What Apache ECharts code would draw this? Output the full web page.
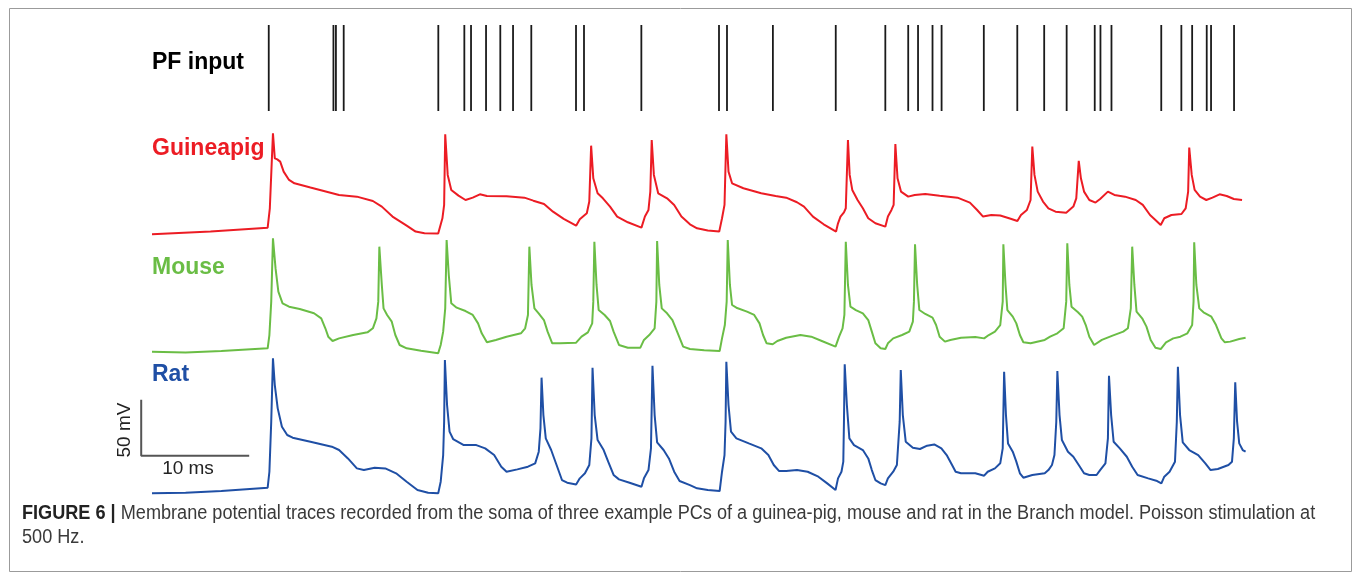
<!DOCTYPE html>
<html>
<head>
<meta charset="utf-8">
<title>Figure 6</title>
<script src="https://cdn.jsdelivr.net/npm/echarts@6.0.0/dist/echarts.min.js"></script>
<style>
    html, body { margin: 0; padding: 0; background: #fff; }
    #divStatis { width: 1358px; height: 579px; }
</style>
</head>
<body>
<div id="divStatis"></div>
<script>
// PF input spike times (ms)
var pfTimes = [10.81, 16.80, 17.03, 17.75, 26.51, 28.92, 29.54, 30.93, 32.25, 33.43, 35.12, 39.26, 40.00, 45.31,
    52.50, 53.24, 57.49, 63.31, 67.90, 70.02, 70.93, 72.27, 73.11, 77.02, 80.12, 82.61, 84.69, 87.29, 87.82, 88.84,
    93.45, 95.31, 96.31, 97.66, 98.06, 100.19];

// membrane potential, [time ms, mV]
var guineapigTrace = [[0, -75.6], [5.42, -73.2], [10.71, -69.7], [10.91, -52.4], [11.20, 14.6], [11.37, -7.8], [11.60, -8.7], [11.87, -10.7], [12.19, -19.7], [12.69, -27.1], [13.19, -30.1], [14.67, -33.9], [17.32, -40.5], [18.97, -42.0], [20.45, -45.9], [21.28, -50.9], [22.27, -59.8], [23.58, -67.9], [24.41, -73.2], [25.23, -74.7], [26.50, -75.0], [26.89, -61.3], [27.05, -49.4], [27.15, 13.7], [27.38, -22.6], [27.71, -36.0], [28.38, -41.1], [29.03, -45.0], [29.70, -42.9], [30.36, -39.9], [31.01, -41.4], [32.83, -41.7], [34.48, -42.9], [35.31, -45.6], [36.30, -48.5], [37.13, -55.4], [38.12, -61.9], [39.27, -67.9], [39.61, -62.2], [40.26, -56.9], [40.49, -46.4], [40.66, 3.5], [40.86, -25.6], [41.26, -39.0], [41.75, -43.5], [42.41, -50.9], [43.07, -59.8], [44.06, -64.9], [45.32, -69.7], [45.64, -59.8], [45.97, -53.9], [46.14, -37.5], [46.27, 8.6], [46.47, -22.6], [46.87, -39.0], [47.69, -43.5], [48.35, -49.4], [49.02, -59.8], [49.81, -66.7], [50.47, -70.3], [51.46, -72.3], [52.52, -73.2], [52.78, -61.3], [53.01, -49.4], [53.18, 13.7], [53.38, -19.7], [53.71, -30.1], [54.76, -34.5], [56.41, -39.0], [57.74, -41.4], [58.72, -42.9], [59.72, -47.0], [60.37, -50.9], [61.20, -59.8], [62.19, -66.7], [63.34, -73.2], [63.52, -65.8], [63.75, -59.8], [64.07, -56.0], [64.24, -52.4], [64.44, 8.6], [64.60, -22.6], [64.84, -36.0], [65.33, -45.0], [65.82, -52.4], [66.32, -61.3], [66.98, -65.8], [67.90, -68.8], [68.14, -59.8], [68.47, -53.9], [68.67, -49.4], [68.83, 5.0], [69.03, -25.6], [69.35, -37.5], [70.02, -42.0], [70.62, -40.5], [71.60, -39.6], [72.93, -41.1], [74.58, -42.9], [75.73, -47.3], [76.40, -53.9], [76.95, -59.8], [77.71, -58.4], [78.54, -58.9], [79.36, -61.3], [80.13, -63.7], [80.46, -58.4], [81.01, -53.9], [81.35, -45.0], [81.51, 2.7], [81.71, -22.6], [82.01, -37.5], [82.50, -46.4], [83.00, -52.4], [83.66, -55.4], [84.65, -56.3], [85.31, -50.9], [85.58, -43.5], [85.81, -10.1], [86.01, -25.6], [86.30, -37.5], [86.79, -45.0], [87.36, -47.3], [87.79, -44.1], [88.51, -37.5], [89.11, -40.5], [90.09, -42.0], [91.09, -45.0], [91.74, -49.4], [92.41, -58.4], [92.91, -62.8], [93.40, -67.3], [93.73, -61.3], [94.39, -58.4], [95.32, -57.5], [95.71, -52.4], [95.94, -37.5], [96.04, 1.8], [96.27, -22.6], [96.54, -36.0], [97.04, -42.0], [97.62, -45.0], [98.19, -42.9], [98.85, -39.9], [99.51, -41.4], [100.17, -44.1], [100.93, -45.0]];

var mouseTrace = [[0, -74.2], [3.11, -74.8], [6.42, -73.6], [10.71, -71.2], [10.87, -59.3], [11.04, -29.5], [11.20, 27.0], [11.44, 0.2], [11.70, -20.6], [12.09, -31.0], [12.69, -34.0], [13.68, -36.1], [15.00, -39.9], [15.67, -44.4], [16.05, -53.3], [16.32, -60.8], [16.72, -64.6], [17.32, -62.3], [18.63, -59.3], [19.95, -56.9], [20.45, -53.3], [20.78, -44.4], [20.95, -29.5], [21.05, 19.6], [21.28, -14.6], [21.44, -35.5], [21.77, -41.4], [22.20, -47.4], [22.53, -59.3], [22.93, -68.2], [23.58, -71.2], [24.91, -73.3], [26.50, -75.6], [26.73, -68.2], [26.96, -56.3], [27.15, -35.5], [27.28, 25.5], [27.48, -5.7], [27.71, -31.0], [28.21, -34.9], [29.03, -37.9], [29.70, -41.4], [30.19, -48.9], [30.53, -57.8], [31.01, -65.8], [31.84, -63.7], [32.83, -60.8], [34.16, -57.8], [34.55, -53.3], [34.81, -41.4], [34.94, 19.6], [35.14, -14.6], [35.41, -35.5], [35.80, -39.9], [36.29, -45.9], [36.63, -56.3], [37.06, -66.7], [37.79, -66.7], [39.27, -66.1], [39.77, -60.8], [40.36, -56.9], [40.76, -48.9], [40.86, -29.5], [40.96, 24.0], [41.16, -14.6], [41.36, -37.0], [41.91, -41.4], [42.41, -46.8], [42.74, -56.3], [43.24, -68.2], [44.06, -70.6], [45.22, -70.6], [45.55, -63.7], [46.04, -59.3], [46.54, -53.3], [46.70, -29.5], [46.77, 24.6], [46.97, -14.6], [47.20, -35.5], [47.69, -39.9], [48.19, -45.9], [48.62, -56.3], [49.18, -69.7], [49.81, -71.8], [51.13, -73.0], [52.56, -73.6], [52.78, -62.3], [53.04, -50.4], [53.21, -29.5], [53.31, 25.5], [53.51, -14.6], [53.71, -32.5], [54.11, -34.9], [55.09, -38.4], [55.76, -41.4], [56.25, -48.9], [56.58, -59.3], [56.91, -66.7], [57.47, -67.6], [57.90, -64.6], [58.72, -61.7], [60.04, -59.3], [61.04, -60.8], [62.02, -64.6], [63.29, -69.7], [63.62, -60.8], [63.94, -53.3], [64.11, -41.4], [64.24, 24.0], [64.44, -14.6], [64.67, -34.0], [65.17, -37.0], [65.82, -39.9], [66.32, -45.9], [66.65, -56.3], [66.98, -66.7], [67.47, -71.2], [67.90, -71.8], [68.14, -66.7], [68.63, -62.3], [69.45, -59.3], [70.12, -56.3], [70.45, -47.4], [70.55, -29.5], [70.65, 21.7], [70.85, -14.6], [71.05, -37.0], [71.60, -40.5], [72.27, -43.8], [72.60, -50.4], [72.93, -60.8], [73.42, -65.2], [73.92, -63.7], [74.91, -61.7], [76.23, -61.1], [77.05, -62.3], [77.48, -59.3], [78.05, -56.3], [78.54, -50.4], [78.77, -29.5], [78.83, 21.7], [79.03, -14.6], [79.20, -37.0], [79.70, -42.9], [80.03, -48.9], [80.36, -59.3], [80.68, -65.8], [81.35, -66.7], [82.66, -63.7], [83.16, -60.8], [83.83, -57.8], [84.41, -53.3], [84.65, -29.5], [84.75, 22.6], [84.94, -14.6], [85.14, -34.0], [85.74, -39.0], [86.13, -42.9], [86.46, -50.4], [86.79, -60.8], [87.23, -68.2], [87.95, -63.7], [88.94, -59.9], [89.93, -56.3], [90.36, -53.3], [90.63, -35.5], [90.76, 19.6], [90.96, -14.6], [91.16, -38.4], [91.68, -44.4], [92.08, -51.8], [92.47, -63.7], [92.91, -70.6], [93.40, -71.8], [93.89, -65.8], [94.56, -62.3], [95.22, -60.8], [95.87, -57.8], [96.31, -50.4], [96.44, -29.5], [96.50, 23.5], [96.70, -14.6], [96.97, -35.5], [97.36, -39.0], [98.09, -42.9], [98.52, -50.4], [99.02, -62.3], [99.34, -65.8], [99.84, -65.2], [100.67, -62.9], [101.26, -61.7]];

var ratTrace = [[0, -75.5], [3.11, -74.9], [6.42, -73.4], [10.71, -70.4], [10.87, -56.2], [11.04, -11.5], [11.20, 45.0], [11.37, 21.2], [11.64, 0.4], [12.03, -16.0], [12.52, -23.4], [13.02, -25.8], [14.67, -29.4], [16.65, -33.8], [17.32, -36.8], [18.14, -44.3], [18.97, -53.2], [19.62, -54.7], [20.62, -52.6], [21.60, -53.2], [22.60, -57.6], [23.58, -65.1], [24.58, -72.5], [25.57, -74.9], [26.50, -75.5], [26.73, -65.1], [26.96, -41.3], [27.05, -11.5], [27.12, 43.5], [27.32, 3.4], [27.55, -20.4], [27.88, -27.0], [28.87, -32.4], [30.03, -32.4], [30.85, -35.3], [31.68, -41.3], [32.34, -51.7], [32.83, -56.2], [33.83, -54.1], [34.81, -51.7], [35.48, -48.7], [35.81, -38.3], [35.97, -17.5], [36.07, 27.8], [36.24, -5.6], [36.46, -26.4], [36.96, -36.8], [37.46, -50.2], [37.96, -63.6], [38.44, -66.0], [39.27, -67.5], [39.61, -62.1], [40.09, -57.6], [40.49, -50.2], [40.69, -26.4], [40.79, 36.7], [40.99, -5.6], [41.26, -27.9], [41.82, -36.8], [42.24, -47.2], [42.74, -59.1], [43.24, -63.0], [44.22, -66.0], [45.32, -69.6], [45.55, -62.1], [45.97, -54.7], [46.20, -35.3], [46.34, 38.5], [46.54, -5.6], [46.77, -30.0], [47.37, -36.8], [47.86, -44.3], [48.35, -56.2], [48.85, -64.5], [49.81, -68.1], [50.47, -71.0], [51.46, -72.5], [52.56, -73.4], [52.78, -56.2], [53.01, -41.3], [53.11, -11.5], [53.18, 42.0], [53.38, 3.4], [53.61, -20.4], [54.11, -26.4], [55.26, -30.9], [56.41, -35.3], [57.07, -41.3], [57.57, -50.2], [58.07, -55.6], [58.72, -55.6], [59.72, -54.7], [60.71, -56.2], [61.70, -60.6], [62.52, -66.6], [63.29, -72.5], [63.52, -62.1], [63.84, -56.2], [64.01, -47.2], [64.07, -11.5], [64.14, 39.7], [64.34, 3.4], [64.57, -26.4], [65.00, -32.4], [65.82, -36.8], [66.32, -44.3], [66.65, -54.7], [66.98, -63.6], [67.47, -66.6], [67.90, -68.1], [68.14, -62.1], [68.63, -56.2], [68.97, -50.2], [69.23, -11.5], [69.33, 34.6], [69.52, -5.6], [69.79, -29.4], [70.45, -34.7], [71.11, -35.9], [71.77, -32.9], [72.43, -31.8], [73.09, -35.3], [73.58, -41.3], [74.08, -50.2], [74.41, -56.2], [74.91, -57.6], [76.23, -57.6], [77.05, -59.7], [77.38, -56.2], [78.05, -53.2], [78.54, -48.7], [78.77, -35.3], [78.90, 33.1], [79.07, -5.6], [79.26, -30.9], [79.70, -38.3], [80.03, -47.2], [80.36, -57.6], [80.68, -61.5], [81.51, -59.1], [82.66, -57.6], [83.00, -54.7], [83.33, -50.2], [83.56, -41.3], [83.73, -11.5], [83.83, 33.7], [84.03, -5.6], [84.25, -27.9], [84.81, -38.3], [85.31, -42.8], [85.81, -50.2], [86.30, -57.6], [86.79, -59.1], [87.46, -59.1], [87.79, -54.7], [88.28, -48.7], [88.51, -26.4], [88.61, 29.5], [88.81, -5.6], [89.04, -29.4], [89.61, -35.3], [90.26, -42.8], [90.76, -51.7], [91.26, -59.1], [92.24, -62.1], [93.07, -64.5], [93.46, -66.6], [93.73, -60.6], [94.22, -56.2], [94.72, -47.2], [94.89, -11.5], [94.99, 37.6], [95.19, -5.6], [95.44, -30.0], [96.04, -36.8], [96.87, -41.3], [97.53, -48.7], [98.02, -54.7], [98.69, -53.8], [99.67, -50.2], [100.00, -47.2], [100.17, -26.4], [100.30, 23.6], [100.47, -11.5], [100.67, -30.9], [100.99, -36.8], [101.26, -38.3]];

// scale bar: 10 ms x 50 mV, drawn in the rat panel
var scaleBar = [[-1, 8], [-1, -42], [9, -42]];

var traceNames = ['Guineapig', 'Mouse', 'Rat'];
var traceColors = ['#ec1c24', '#6abd45', '#1f4fa5'];
var traceTops = [93.6, 212.6, 352.8];

var myChart = echarts.init(document.getElementById('divStatis'));

var grids = [{ left: 130.4, width: 1123.2, top: 25, height: 86 }];
var xAxes = [{ type: 'value', gridIndex: 0, min: -2, max: 102, show: false }];
var yAxes = [{ type: 'value', gridIndex: 0, min: 0, max: 1, show: false }];
traceTops.forEach(function (top, i) {
    grids.push({ left: 130.4, width: 1123.2, top: top, height: 145.6 });
    xAxes.push({ type: 'value', gridIndex: i + 1, min: -2, max: 102, show: false });
    yAxes.push({ type: 'value', gridIndex: i + 1, min: -80, max: 50, show: false });
});

var series = [{
    name: 'PF input',
    type: 'custom',
    xAxisIndex: 0,
    yAxisIndex: 0,
    encode: { x: 0 },
    data: pfTimes.map(function (t) { return [t]; }),
    renderItem: function (params, api) {
        var p1 = api.coord([api.value(0), 1]);
        var p2 = api.coord([api.value(0), 0]);
        return {
            type: 'line',
            shape: { x1: p1[0], y1: p1[1], x2: p2[0], y2: p2[1] },
            style: { stroke: '#1a1a1a', lineWidth: 1.8 }
        };
    }
}];
[guineapigTrace, mouseTrace, ratTrace].forEach(function (trace, i) {
    series.push({
        name: traceNames[i],
        type: 'line',
        xAxisIndex: i + 1,
        yAxisIndex: i + 1,
        showSymbol: false,
        symbol: 'none',
        lineStyle: { width: 2, color: traceColors[i] },
        data: trace
    });
});
series.push({
    name: 'scale',
    type: 'line',
    xAxisIndex: 3,
    yAxisIndex: 3,
    symbol: 'none',
    lineStyle: { width: 2, color: '#555' },
    data: scaleBar
});

var labelFont = 'bold 23px "Liberation Sans", Arial, sans-serif';
var captionFont = '20px "Liberation Sans", Arial, sans-serif';
var option = {
    animation: false,
    backgroundColor: '#fff',
    grid: grids,
    xAxis: xAxes,
    yAxis: yAxes,
    series: series,
    graphic: [
        {
            type: 'rect',
            shape: { x: 9.5, y: 8.5, width: 1342, height: 563 },
            style: { fill: 'none', stroke: '#9b9b9b', lineWidth: 1 }
        },
        { type: 'text', x: 152, y: 63, style: { text: 'PF input', font: labelFont, fill: '#000', verticalAlign: 'middle' } },
        { type: 'text', x: 152, y: 149, style: { text: 'Guineapig', font: labelFont, fill: traceColors[0], verticalAlign: 'middle' } },
        { type: 'text', x: 152, y: 268, style: { text: 'Mouse', font: labelFont, fill: traceColors[1], verticalAlign: 'middle' } },
        { type: 'text', x: 152, y: 375, style: { text: 'Rat', font: labelFont, fill: traceColors[2], verticalAlign: 'middle' } },
        { type: 'text', x: 188, y: 469, style: { text: '10 ms', font: '19px "Liberation Sans", Arial, sans-serif', fill: '#222', align: 'center', verticalAlign: 'middle' } },
        { type: 'text', x: 125, y: 430, rotation: Math.PI / 2, style: { text: '50 mV', font: '19px "Liberation Sans", Arial, sans-serif', fill: '#222', align: 'center', verticalAlign: 'middle' } },
        {
            type: 'text', x: 22, y: 513, scaleX: 0.906,
            style: {
                text: '{b|FIGURE 6 |} Membrane potential traces recorded from the soma of three example PCs of a guinea-pig, mouse and rat in the Branch model. Poisson stimulation at',
                font: captionFont,
                fill: '#3a3a3a',
                verticalAlign: 'middle',
                rich: { b: { fontWeight: 'bold', fontSize: 20, fill: '#222' } }
            }
        },
        {
            type: 'text', x: 22, y: 537, scaleX: 0.906,
            style: { text: '500 Hz.', font: captionFont, fill: '#3a3a3a', verticalAlign: 'middle' }
        }
    ]
};
myChart.setOption(option);
</script>
</body>
</html>
